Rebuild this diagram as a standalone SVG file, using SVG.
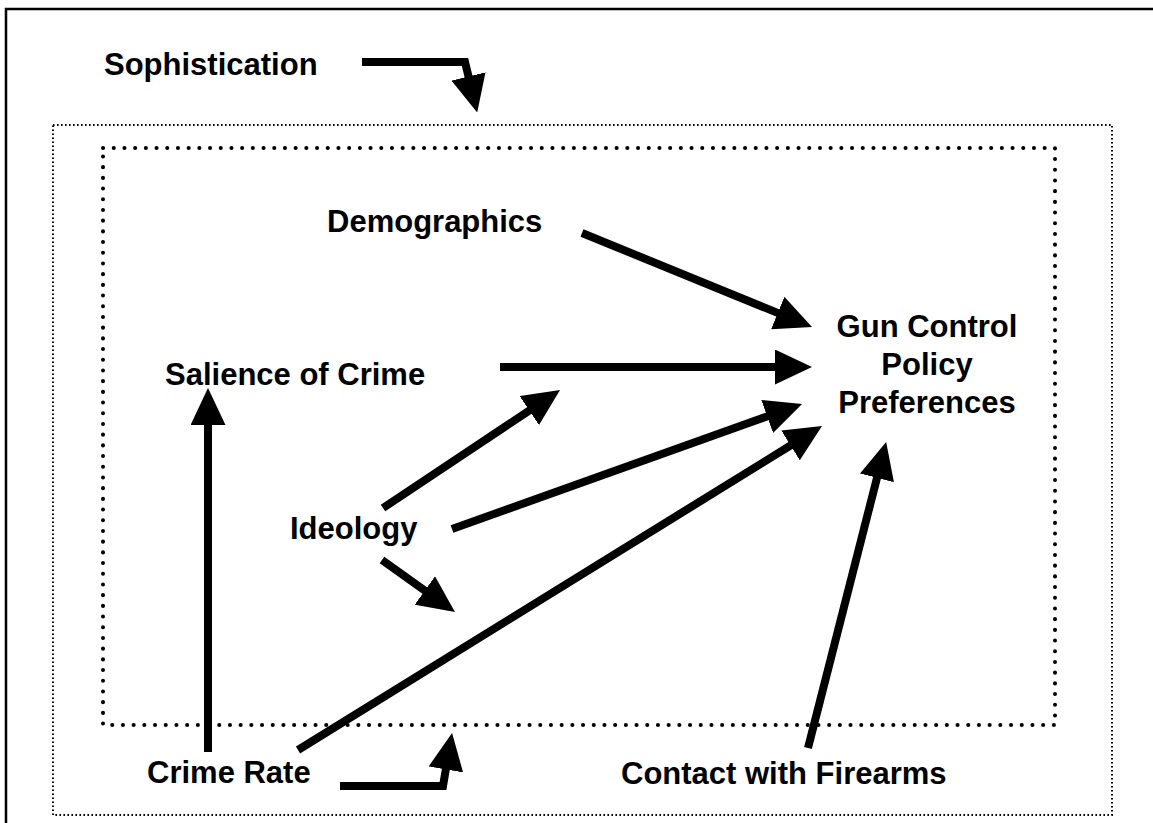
<svg xmlns="http://www.w3.org/2000/svg" width="1153" height="823" viewBox="0 0 1153 823">
<defs>
<marker id="ah" viewBox="0 0 37 35" refX="17" refY="17.5" markerWidth="37" markerHeight="35" markerUnits="userSpaceOnUse" orient="auto">
<path d="M0,0 L37,17.5 L0,35 Z" fill="#000"/>
</marker>
<style>
.lbl{font-family:"Liberation Sans",Arial,sans-serif;font-weight:bold;font-size:31px;fill:#000}
.arr{fill:none;stroke:#000;stroke-width:8;stroke-linejoin:miter;marker-end:url(#ah)}
.outer{fill:none;stroke:#000;stroke-width:2;stroke-dasharray:1.6 2.4}
.inner{fill:none;stroke:#000;stroke-width:4;stroke-linecap:round;stroke-dasharray:0.1 10.6}
</style>
</defs>
<rect width="1153" height="823" fill="#fff"/>
<g id="frame">
<path d="M6,823 V9 H1153" fill="none" stroke="#000" stroke-width="2.5"/>
</g>
<g id="sophistication-box">
<rect class="outer" x="53" y="125" width="1059" height="690"/>
</g>
<g id="inner-box">
<rect class="inner" x="103" y="148" width="952" height="577"/>
</g>
<g id="connectors">
<path class="arr" d="M362,62 H465 L472.5,93"/>
<path class="arr" d="M582,233 L793.5,319.4"/>
<path class="arr" d="M500,367 L792,367"/>
<path class="arr" d="M383,508 L543.4,401.1"/>
<path class="arr" d="M452,529 L783.2,410.7"/>
<path class="arr" d="M382,560 L438.7,600.4"/>
<path class="arr" d="M208,752 L208,408"/>
<path class="arr" d="M298,750 L805,436.5"/>
<path class="arr" d="M808,748 L881.2,461.4"/>
<path class="arr" d="M340,786 H443 L448.7,752.7"/>
</g>
<g id="n-sophistication"><text class="lbl" x="104" y="75">Sophistication</text></g>
<g id="n-demographics"><text class="lbl" x="327" y="232">Demographics</text></g>
<g id="n-salience"><text class="lbl" x="165" y="385">Salience of Crime</text></g>
<g id="n-ideology"><text class="lbl" x="290" y="539">Ideology</text></g>
<g id="n-gcpp"><text class="lbl" text-anchor="middle"><tspan x="927" y="337">Gun Control</tspan><tspan x="927" y="375">Policy</tspan><tspan x="927" y="413">Preferences</tspan></text></g>
<g id="n-crimerate"><text class="lbl" x="147" y="783">Crime Rate</text></g>
<g id="n-contact"><text class="lbl" x="621" y="784">Contact with Firearms</text></g>
</svg>
